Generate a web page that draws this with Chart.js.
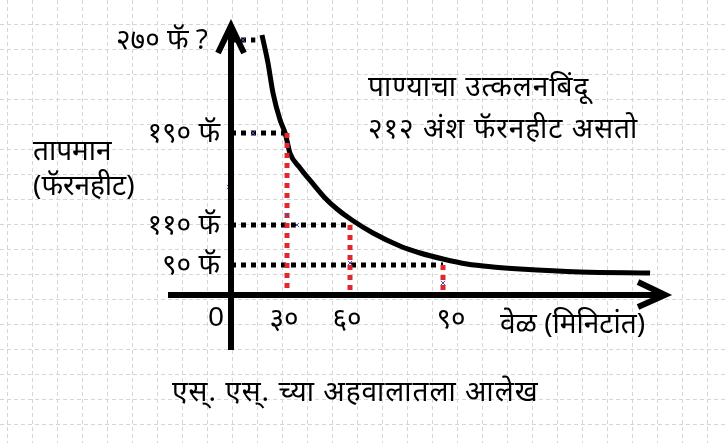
<!DOCTYPE html>
<html>
<head>
<meta charset="utf-8">
<script src="https://cdn.jsdelivr.net/npm/chart.js@4.4.1/dist/chart.umd.min.js"></script>
<style>
  html, body { margin: 0; padding: 0; background: #fff; }
  #wrap { width: 725px; height: 443px; }
</style>
</head>
<body>
<div id="wrap"><canvas id="chart" width="725" height="443"></canvas></div>
<script>
// cooling curve (minutes, degrees F)
const minutes = [16.6, 19.8, 22.5, 26.3, 29, 31.4, 36.2, 42.4, 48.1, 53.8, 60.6, 67.4, 76.1, 82.6, 90, 97.7, 106.1, 114.8, 134.2, 156.8];
const temps   = [274.3, 250.3, 224.5, 201.2, 190, 172.6, 159.6, 145.7, 133.5, 123.9, 114.3, 106, 99.5, 96, 93, 90.5, 84, 78, 69, 66];

// dotted guides
const guideTemps = [270, 190, 110, 90];
const guideEnds  = [13, 30, 60, 90];
const dropTimes  = [30, 60, 90];
const dropTemps  = [190, 110, 90];

// small stray markers on the sketch
const markerMinutes = [6.4, 11.8, -1.1, 30, 34.8, 60, 81.9, 90];
const markerTemps   = [270, 190, 143, 118.7, 110, 91, 0, 36];

// tick labels
const tempTicks  = [270, 190, 110, 90];
const tempLabels = ['२७० फॅ ?', '१९० फॅ', '११० फॅ', '९० फॅ'];
const timeTicks  = [30, 60, 90];
const timeLabels = ['३०', '६०', '९०'];

// the sketch is not drawn to scale: piecewise mapping value -> pixel
const knots = {
  x: [[0, 231], [30, 287], [60, 350], [90, 443]],
  y: [[0, 295], [90, 265], [110, 225], [190, 133], [270, 40]]
};

class SketchScale extends Chart.LinearScale {
  getPixelForValue(value) {
    const k = knots[this.axis];
    let i = 0;
    while (i < k.length - 2 && value > k[i + 1][0]) i++;
    const [v0, p0] = k[i], [v1, p1] = k[i + 1];
    return p0 + (value - v0) * (p1 - p0) / (v1 - v0);
  }
  getValueForPixel(pixel) {
    const k = knots[this.axis];
    let i = 0;
    const dir = k[1][1] > k[0][1] ? 1 : -1;
    while (i < k.length - 2 && (pixel - k[i + 1][1]) * dir > 0) i++;
    const [v0, p0] = k[i], [v1, p1] = k[i + 1];
    return v0 + (pixel - p0) * (v1 - v0) / (p1 - p0);
  }
}
SketchScale.id = 'sketch';
SketchScale.defaults = Chart.LinearScale.defaults;
Chart.register(SketchScale);

const FONT = '"Noto Sans", "DejaVu Sans", sans-serif';
const RED = '#e3262b';

const datasets = [];
datasets.push({
  data: minutes.map((m, i) => ({ x: m, y: temps[i] })),
  borderColor: '#000', borderWidth: 5, pointRadius: 0,
  cubicInterpolationMode: 'monotone', order: 3
});
guideTemps.forEach((t, i) => {
  datasets.push({
    data: [{ x: 0, y: t }, { x: guideEnds[i], y: t }],
    borderColor: '#000', borderWidth: 5, borderDash: [5, 5],
    pointRadius: 0, order: 4
  });
});
dropTimes.forEach((m, i) => {
  datasets.push({
    data: [{ x: m, y: dropTemps[i] }, { x: m, y: 0 }],
    borderColor: RED, borderWidth: 5, borderDash: [5, 5],
    pointRadius: 0, order: 2
  });
});
datasets.push({
  type: 'scatter',
  data: markerMinutes.map((m, i) => ({ x: m, y: markerTemps[i] })),
  pointStyle: 'crossRot', pointRadius: 3, borderWidth: 1,
  borderColor: '#4b4bb0', order: 1
});

const sketchPlugin = {
  id: 'sketch',
  beforeDraw(chart) {
    const ctx = chart.ctx;
    ctx.save();
    ctx.fillStyle = '#fff';
    ctx.fillRect(0, 0, chart.width, chart.height);
    ctx.strokeStyle = '#d6d6d6';
    ctx.lineWidth = 1;
    ctx.setLineDash([4, 3]);
    ctx.beginPath();
    for (let x = 7.5; x < chart.width; x += 25) { ctx.moveTo(x, 0); ctx.lineTo(x, chart.height); }
    for (let y = -0.5; y < chart.height; y += 25) { ctx.moveTo(0, y); ctx.lineTo(chart.width, y); }
    ctx.stroke();
    ctx.restore();
  },
  afterDatasetsDraw(chart) {
    const ctx = chart.ctx;
    const xs = chart.scales.x, ys = chart.scales.y;
    const x0 = xs.getPixelForValue(0), y0 = ys.getPixelForValue(0);
    ctx.save();
    ctx.strokeStyle = '#000';
    ctx.lineWidth = 6;
    ctx.lineCap = 'butt';
    ctx.lineJoin = 'miter';
    ctx.beginPath();
    ctx.moveTo(x0, 350); ctx.lineTo(x0, 28);
    ctx.moveTo(168, y0); ctx.lineTo(663, y0);
    ctx.stroke();
    ctx.beginPath();
    ctx.moveTo(x0 - 13, 53); ctx.lineTo(x0, 26); ctx.lineTo(x0 + 13, 53);
    ctx.moveTo(638, y0 - 13); ctx.lineTo(665, y0); ctx.lineTo(638, y0 + 12);
    ctx.stroke();

    ctx.fillStyle = '#000';
    ctx.textBaseline = 'middle';
    ctx.font = '28px ' + FONT;
    ctx.textAlign = 'right';
    tempTicks.forEach((t, i) => {
      ctx.fillText(tempLabels[i], i === 0 ? 208 : 220, ys.getPixelForValue(t) + 1);
    });
    ctx.textAlign = 'center';
    timeTicks.forEach((m, i) => {
      ctx.fillText(timeLabels[i], xs.getPixelForValue(m) + (i === 2 ? 8 : -3), 320);
    });
    ctx.font = '28px "Liberation Sans", Arial, sans-serif';
    ctx.fillText('0', 216, 318);

    ctx.font = '28px ' + FONT;
    ctx.textAlign = 'left';
    ctx.fillText('वेळ (मिनिटांत)', 500, 325);
    ctx.fillText('तापमान', 33, 152);
    ctx.fillText('(फॅरनहीट)', 33, 187);
    ctx.letterSpacing = '1px';
    ctx.fillText('पाण्याचा उत्कलनबिंदू', 368, 88);
    ctx.fillText('२१२ अंश फॅरनहीट असतो', 368, 130);
    ctx.fillText('एस्. एस्. च्या अहवालातला आलेख', 172, 393);
    ctx.restore();
  }
};

new Chart(document.getElementById('chart'), {
  type: 'line',
  data: { datasets },
  options: {
    responsive: false,
    devicePixelRatio: 1,
    animation: false,
    layout: { padding: 0 },
    plugins: { legend: { display: false }, tooltip: { enabled: false } },
    scales: {
      x: { type: 'sketch', display: false, min: -40, max: 170 },
      y: { type: 'sketch', display: false, min: -170, max: 300 }
    }
  },
  plugins: [sketchPlugin]
});
</script>
</body>
</html>
